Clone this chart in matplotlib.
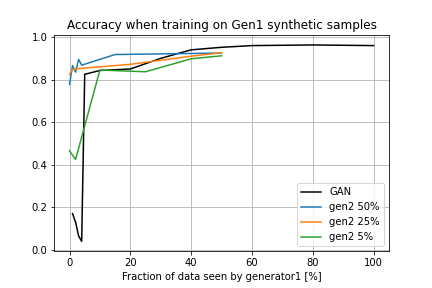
import matplotlib
matplotlib.use("Agg")
import matplotlib.pyplot as plt

# fraction of data seen by generator1 [%] and accuracy per run
gan_x = [1, 2, 3, 4, 5, 10, 20, 30, 40, 50, 60, 80, 100]
gan_acc = [0.17, 0.13, 0.065, 0.04, 0.825, 0.843, 0.85, 0.9, 0.94, 0.952, 0.96, 0.963, 0.96]

gen2_50_x = [0, 1, 2, 3, 4, 15, 50]
gen2_50_acc = [0.777, 0.866, 0.835, 0.895, 0.868, 0.918, 0.925]

gen2_25_x = [0, 1, 3, 20, 40, 50]
gen2_25_acc = [0.824, 0.848, 0.852, 0.872, 0.91, 0.927]

gen2_5_x = [0, 2, 10, 25, 40, 50]
gen2_5_acc = [0.465, 0.425, 0.845, 0.837, 0.898, 0.912]

fig = plt.figure(figsize=(6, 4), dpi=72)
ax = fig.add_subplot(111)
fig.subplots_adjust(left=0.1257, right=0.9, top=0.878, bottom=0.128)

ax.plot(gan_x, gan_acc, color="black", label="GAN")
ax.plot(gen2_50_x, gen2_50_acc, label="gen2 50%")
ax.plot(gen2_25_x, gen2_25_acc, label="gen2 25%")
ax.plot(gen2_5_x, gen2_5_acc, label="gen2 5%")

ax.set_title("Accuracy when training on Gen1 synthetic samples")
ax.set_xlabel("Fraction of data seen by generator1 [%]")
ax.grid()
ax.legend(loc="lower right")

fig.savefig("out.png", dpi=72)
